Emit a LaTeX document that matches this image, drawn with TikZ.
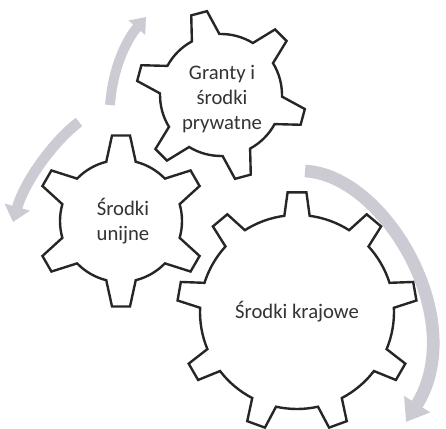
\documentclass[tikz,border=0pt]{standalone}
\usepackage{fontspec}
\setmainfont{Carlito}
\usepackage{xcolor}
\usepackage{tikz}
\usetikzlibrary{arrows.meta, calc}
\definecolor{pencil}{RGB}{204,202,210}
% #1 centre, #2 teeth, #3 inner radius, #4 outer radius, #5 first tooth angle, #6 half base angle, #7 half tip angle
\newcommand{\cogwheel}[7]{%
  \draw[gearline, shift={#1}] ({#5-#6}:#3)
    \foreach \k in {1,...,#2} {
      -- ({#5+(\k-1)*360/#2-#7}:#4) -- ({#5+(\k-1)*360/#2+#7}:#4)
      -- ({#5+(\k-1)*360/#2+#6}:#3)
      arc[start angle={#5+(\k-1)*360/#2+#6}, end angle={#5+\k*360/#2-#6}, radius=#3]
    } -- cycle;}

\begin{document}
\begin{tikzpicture}[x=0.025cm, y=0.025cm,
    gearline/.style={draw=black!85, line width=1.7pt, fill=white, line join=miter},
    geartext/.style={align=center, text=black!80, font=\fontsize{14.7}{17.6}\selectfont},
    cyclearrow/.style={draw=pencil, line width=#1}
]
\useasboundingbox (0,0) rectangle (446,428);

\coordinate (cg) at (221,333);
\coordinate (cu) at (121,207);
\coordinate (ck) at (297,116);

% rotation arrows
\draw[cyclearrow=7pt, -{Triangle[length=10pt, width=15pt]}] (110,323) .. controls (113,363) and (128,390) .. (146,411);
\draw[cyclearrow=7.5pt, -{Triangle[length=11pt, width=18pt]}] (79,306) .. controls (55,288) and (25,248) .. (13,206);
\draw[cyclearrow=9pt, -{Triangle[length=15pt, width=21pt]}] (305,257) .. controls (385,253) and (470,108) .. (406,6);

% gears
\cogwheel{(cg)}{6}{61}{85}{105}{13.5}{5.5}
\cogwheel{(cu)}{6}{61}{86}{90}{14}{6}
\cogwheel{(ck)}{9}{97}{120}{90}{7.5}{4.5}

\node[geartext] (granty) at ($(cg)+(1,-4)$) {Granty i\\środki\\prywatne};
\node[geartext] (unijne) at ($(cu)+(2,0)$) {Środki\\unijne};
\node[geartext] (krajowe) at (ck) {Środki krajowe};
\end{tikzpicture}
\end{document}
